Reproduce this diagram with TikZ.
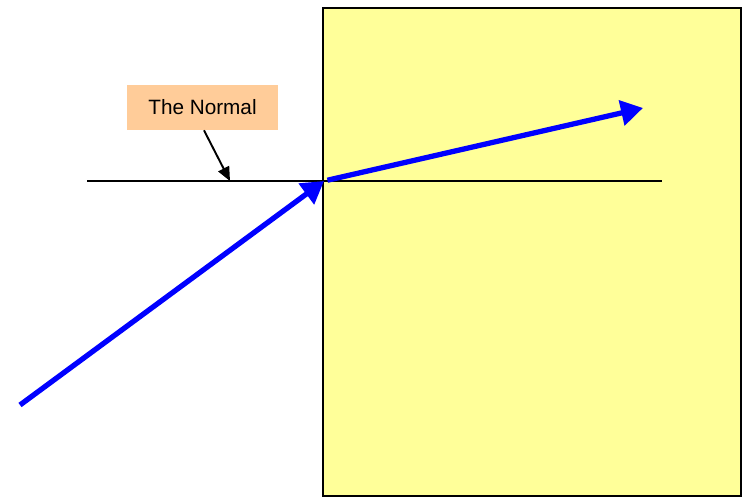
\documentclass[tikz,border=0pt]{standalone}
\usepackage{fontspec}
\setmainfont{Liberation Sans}
\usepackage{xcolor}
\usepackage{tikz}
\usetikzlibrary{arrows.meta,positioning}
\definecolor{cBlock}{HTML}{FFFF99}
\definecolor{cLabel}{HTML}{FFCC99}
\definecolor{cRay}{HTML}{0000FF}
\tikzset{
  ray/.style   ={-{Triangle[length=4.4mm,width=5mm]}, line width=3pt, draw=cRay},
  pointer/.style={-{Triangle[length=2.8mm,width=2.4mm]}, line width=1.1pt, draw=black},
  tag/.style   ={fill=cLabel, inner sep=0pt, minimum width=3.02cm, minimum height=0.9cm, font=\fontsize{11.8}{13}\selectfont},
}

\begin{document}
\begin{tikzpicture}[x=0.02cm,y=-0.02cm]
        \useasboundingbox (0,0) rectangle (742,497);
        \draw[fill=cBlock, line width=0.9pt] (323,8) rectangle (741,496);
        \coordinate (nl) at (87,181);
        \coordinate (nr) at (662,181);
        \coordinate (src) at (20,405);
        \coordinate (o) at (324,181);
        \coordinate (tip) at (643,108);
        \coordinate (hit) at (230,181);
        \node[tag] (lbl) at (202.5,107.5){The Normal};
        \draw[line width=0.9pt](nl)--(nr);
        \draw[pointer](lbl.south)++(1.5,0)--(hit);
        \draw[ray](src)--(o);
        \draw[ray,shorten <=2pt](o)--(tip);
      \end{tikzpicture}
\end{document}
